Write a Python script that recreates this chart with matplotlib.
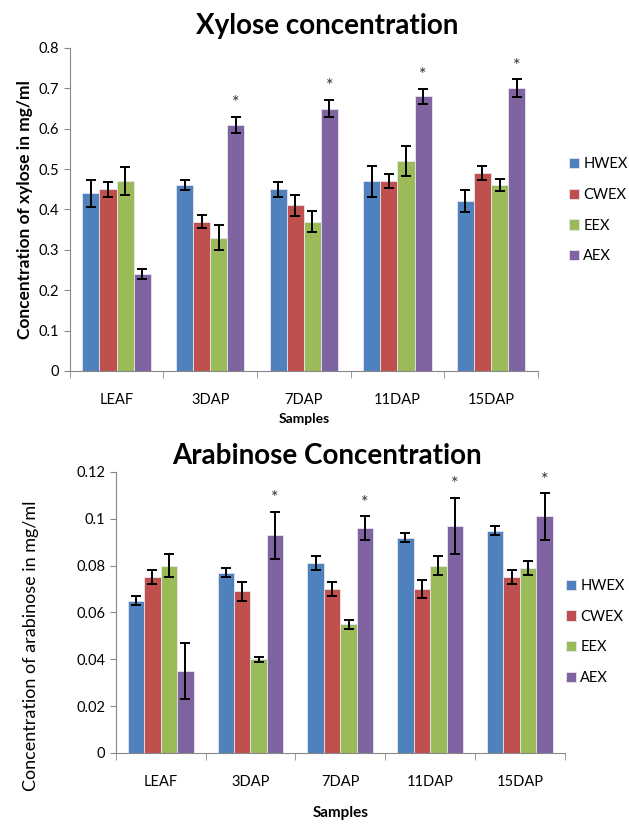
import matplotlib.pyplot as plt
import numpy as np

plt.rcParams['font.family'] = ['Lato', 'DejaVu Sans']

samples = ["LEAF", "3DAP", "7DAP", "11DAP", "15DAP"]
series = ["HWEX", "CWEX", "EEX", "AEX"]
colors = ["#4F81BD", "#C0504D", "#9BBB59", "#8064A2"]

# xylose, mg/ml
xyl_hwex = [0.44, 0.46, 0.45, 0.47, 0.42]
xyl_cwex = [0.45, 0.37, 0.41, 0.47, 0.49]
xyl_eex = [0.47, 0.33, 0.37, 0.52, 0.46]
xyl_aex = [0.24, 0.61, 0.65, 0.68, 0.70]
xyl_hwex_err = [0.033, 0.013, 0.018, 0.038, 0.027]
xyl_cwex_err = [0.018, 0.016, 0.026, 0.018, 0.017]
xyl_eex_err = [0.035, 0.031, 0.026, 0.036, 0.015]
xyl_aex_err = [0.013, 0.020, 0.022, 0.019, 0.022]

# arabinose, mg/ml
ara_hwex = [0.065, 0.077, 0.081, 0.092, 0.095]
ara_cwex = [0.075, 0.069, 0.070, 0.070, 0.075]
ara_eex = [0.080, 0.040, 0.055, 0.080, 0.079]
ara_aex = [0.035, 0.093, 0.096, 0.097, 0.101]
ara_hwex_err = [0.002, 0.002, 0.003, 0.002, 0.002]
ara_cwex_err = [0.003, 0.004, 0.003, 0.004, 0.003]
ara_eex_err = [0.005, 0.001, 0.002, 0.004, 0.003]
ara_aex_err = [0.012, 0.010, 0.005, 0.012, 0.010]

# asterisks on AEX bars
star = [False, True, True, True, True]


def draw(ax, vals, errs, ymax, ystep, fmt, title, ylabel, ylabel_size, ylabel_weight,
         legend_xy, title_y, xlabel_size):
    x = np.arange(len(samples))
    w = 0.183
    for i in range(4):
        pos = x + (i - 1.5) * w
        ax.bar(pos, vals[i], w, color=colors[i], edgecolor="#E6E6F0", linewidth=0.6,
               label=series[i], zorder=2)
        ax.errorbar(pos, vals[i], yerr=errs[i], fmt="none", ecolor="black",
                    elinewidth=1.4, capsize=3.5, capthick=1.4, zorder=3)
    pos = x + 1.5 * w
    for j in range(len(samples)):
        if star[j]:
            ax.annotate("*", (pos[j], vals[3][j] + errs[3][j]), xytext=(0, 4),
                        textcoords="offset points", ha="center", va="bottom",
                        fontsize=13, color="#333333")
    ax.set_xlim(-0.5, len(samples) - 0.5)
    ax.set_ylim(0, ymax)
    ax.set_yticks(np.arange(0, ymax + ystep / 2, ystep))
    ax.set_yticklabels([fmt(v) for v in np.arange(0, ymax + ystep / 2, ystep)])
    ax.set_xticks(x)
    ax.set_xticklabels(samples)
    ax.set_xticks(np.arange(-0.5, len(samples)), minor=True)
    ax.tick_params(axis="x", which="major", length=0, pad=16, labelsize=10.5)
    ax.tick_params(axis="x", which="minor", length=5, color="#888888")
    ax.tick_params(axis="y", length=4, color="#888888", labelsize=10.5)
    for s in ["top", "right"]:
        ax.spines[s].set_visible(False)
    for s in ["left", "bottom"]:
        ax.spines[s].set_color("#888888")
    ax.set_xlabel("Samples", fontsize=xlabel_size, fontweight="bold", labelpad=4)
    ax.set_ylabel(ylabel, fontsize=ylabel_size, fontweight=ylabel_weight, labelpad=4)
    fig.text(0.52, title_y, title, ha="center", va="center", fontsize=20, fontweight="bold")
    ax.legend(loc="center left", bbox_to_anchor=legend_xy, bbox_transform=fig.transFigure,
              frameon=False, fontsize=10.5, handlelength=0.7, handleheight=0.7,
              handletextpad=0.3, labelspacing=1.15, borderaxespad=0)


fig = plt.figure(figsize=(6.29, 8.24), dpi=100)

ax1 = fig.add_axes([0.111, 0.5498, 0.744, 0.392])
draw(ax1, [xyl_hwex, xyl_cwex, xyl_eex, xyl_aex],
     [xyl_hwex_err, xyl_cwex_err, xyl_eex_err, xyl_aex_err],
     0.8, 0.1, lambda v: "0" if v == 0 else ("%.1f" % v),
     "Xylose concentration", "Concentration of xylose in mg/ml", 12.5, "bold",
     (0.895, 0.745), 0.968, 10)

ax2 = fig.add_axes([0.184, 0.0862, 0.714, 0.341])
draw(ax2, [ara_hwex, ara_cwex, ara_eex, ara_aex],
     [ara_hwex_err, ara_cwex_err, ara_eex_err, ara_aex_err],
     0.12, 0.02, lambda v: "0" if v == 0 else ("%.2f" % v).rstrip("0"),
     "Arabinose Concentration", "Concentration of arabinose in mg/ml", 13, "normal",
     (0.89, 0.233), 0.447, 11)
ax2.yaxis.set_label_coords(-0.17, 0.38)
ax2.xaxis.set_label_coords(0.5, -0.19)

fig.savefig("out.png", dpi=100)
